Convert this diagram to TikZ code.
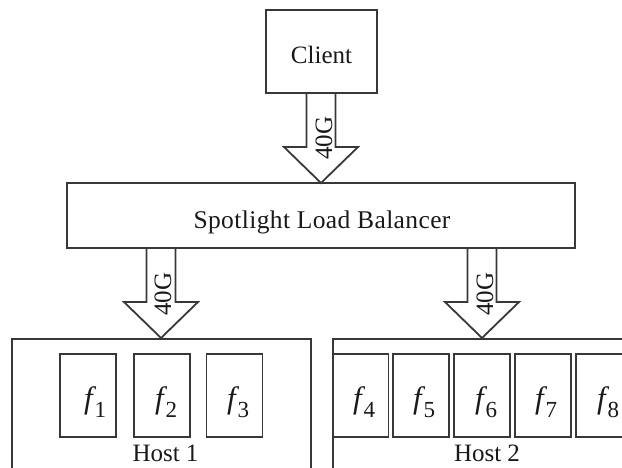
\documentclass[tikz,border=0pt]{standalone}
\usepackage{fontspec}
\setmainfont{Liberation Serif}
\usetikzlibrary{calc}
\tikzset{
  x=1pt,y=-1pt,
  ink/.style={draw=black!78,line width=1.8pt},
  box/.style={ink,rectangle,inner sep=0pt,outer sep=0pt},
  fnbox/.style={box,minimum width=56pt,minimum height=83pt},
  lbl/.style={inner sep=0pt,outer sep=0pt,text=black!90,font=\fontsize{25}{25}\selectfont},
  fn/.style={inner sep=0pt,outer sep=0pt,anchor=base west,text=black!90},
  bw/.style={lbl,rotate=90},
  blockarrow/.style={ink,line join=miter,to path={
    let \p1=(\tikztostart),\p2=(\tikztotarget) in
    (\x2-14.5pt,\y1) -- (\x2-14.5pt,\y2+36pt) -- (\x2-37pt,\y2+36pt) -- (\x2,\y2)
    -- (\x2+37pt,\y2+36pt) -- (\x2+14.5pt,\y2+36pt) -- (\x2+14.5pt,\y1) -- cycle}}
}
\newcommand{\fnlabel}[3]{\node[fn] (#1) at (#2,408) {\fontsize{31}{31}\selectfont\textit{f}\raisebox{-9pt}{\hspace{-1.5pt}\fontsize{23}{23}\selectfont #3}};}
\begin{document}
\begin{tikzpicture}
\useasboundingbox (0,0) rectangle (622,468);
\clip (0,0) rectangle (622,468);
\node[box,minimum width=111pt,minimum height=83pt] (client) at (321.5,51.5) {};
\node[lbl] (clientt) at (321.5,55) {Client};
\node[box,minimum width=508pt,minimum height=65pt] (lb) at (321,215.5) {};
\node[lbl] (lbt) at (322,222.5) {\fontsize{25.5}{25.5}\selectfont\addfontfeature{LetterSpace=1.5}Spotlight Load Balancer};
\node[box,minimum width=299pt,minimum height=181pt] (host1) at (161.5,429.5) {};
\node[box,minimum width=367pt,minimum height=181pt] (host2) at (516.5,429.5) {};
\foreach \n/\cx in {f1/88,f2/162,f3/234.5,f4/360.5,f5/421,f6/482,f7/543,f8/604}
  \node[fnbox] (\n) at (\cx,395.5) {};
\fnlabel{t1}{84}{1}
\fnlabel{t2}{155}{2}
\fnlabel{t3}{227}{3}
\fnlabel{t4}{353}{4}
\fnlabel{t5}{413}{5}
\fnlabel{t6}{475}{6}
\fnlabel{t7}{535}{7}
\fnlabel{t8}{597}{8}
\node[lbl] (h1t) at (165.5,453) {Host 1};
\node[lbl] (h2t) at (487,453) {Host 2};
\coordinate (a1) at (161,248);
\coordinate (b1) at (161,338);
\coordinate (a2) at (482,248);
\coordinate (b2) at (482,338);
\draw[blockarrow] (client.south) to (lb.north);
\draw[blockarrow] (a1) to (b1);
\draw[blockarrow] (a2) to (b2);
\node[bw] (c1) at (324,138) {40G};
\node[bw] (c2) at (163,294) {40G};
\node[bw] (c3) at (485,294) {40G};
\end{tikzpicture}
\end{document}
